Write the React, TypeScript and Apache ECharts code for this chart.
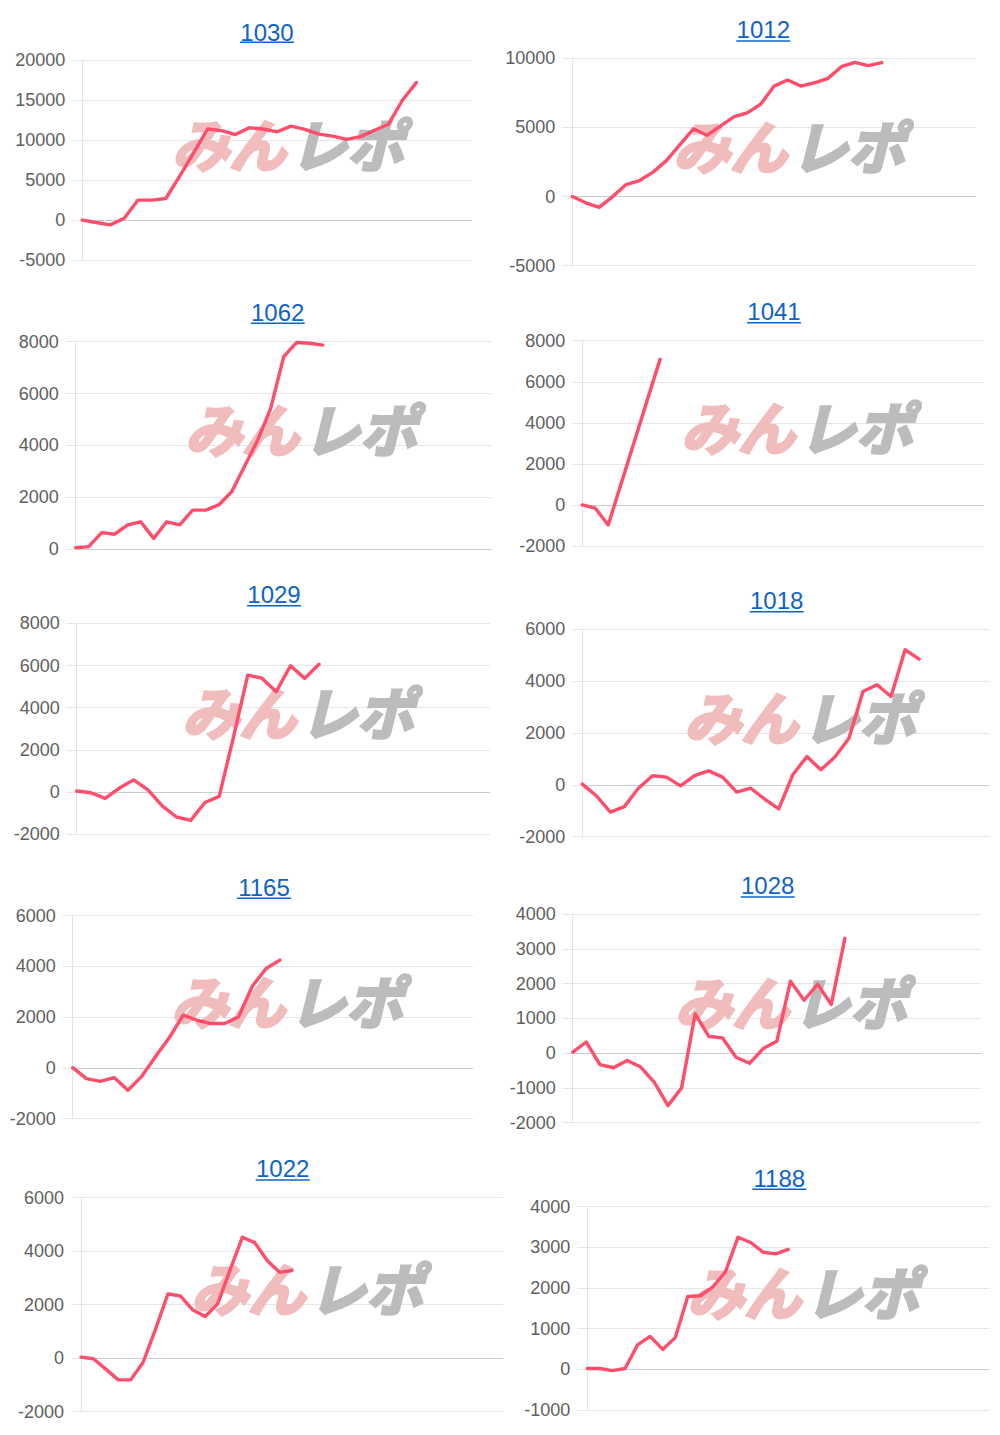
import React, { useEffect, useRef } from "react";
import * as echarts from "echarts";

// ---- data ----
const titles = ["1030", "1012", "1062", "1041", "1029", "1018", "1165", "1028", "1022", "1188"];

const values1030 = [0, -300, -600, 200, 2500, 2500, 2700, 5500, 8400, 11400, 11200, 10700, 11550, 11400, 11050, 11750, 11350, 10750, 10500, 10100, 10450, 11250, 12000, 15000, 17200];
const values1012 = [0, -450, -780, 0, 870, 1160, 1770, 2600, 3750, 4900, 4430, 5100, 5760, 6050, 6680, 7990, 8430, 7990, 8230, 8550, 9390, 9710, 9470, 9690];
const values1062 = [50, 90, 630, 570, 930, 1050, 410, 1050, 930, 1500, 1500, 1700, 2210, 3200, 4200, 5430, 7420, 7970, 7940, 7870];
const values1041 = [0, -160, -975, null, null, null, 7090];
const values1029 = [50, -30, -300, 190, 580, 110, -650, -1180, -1340, -490, -200, 2600, 5540, 5400, 4760, 5990, 5390, 6060];
const values1018 = [30, -420, -1050, -840, -130, 350, 300, -40, 360, 540, 300, -280, -130, -550, -930, 390, 1090, 580, 1070, 1800, 3600, 3860, 3410, 5210, 4850];
const values1165 = [10, -420, -530, -380, -880, -330, 450, 1200, 2080, 1880, 1750, 1750, 2010, 3220, 3920, 4250];
const values1028 = [30, 320, -330, -420, -210, -400, -840, -1510, -1000, 1130, 480, 440, -120, -290, 130, 340, 2070, 1520, 1980, 1400, 3300];
const values1022 = [40, -20, -410, -810, -810, -160, 1080, 2400, 2330, 1810, 1560, 2020, 3280, 4520, 4320, 3650, 3210, 3280];
const values1188 = [20, 20, -30, 20, 600, 810, 490, 780, 1790, 1810, 2030, 2400, 3250, 3120, 2880, 2840, 2950];

const seriesValues = [values1030, values1012, values1062, values1041, values1029, values1018, values1165, values1028, values1022, values1188];

// number of (hidden) x categories on each panel's axis
const categoryCounts = [29, 31, 33, 32, 30, 30, 30, 31, 35, 33];

// y-axis tick settings
const yMins = [-5000, -5000, 0, -2000, -2000, -2000, -2000, -2000, -2000, -1000];
const yMaxs = [20000, 10000, 8000, 8000, 8000, 6000, 6000, 4000, 6000, 4000];
const yIntervals = [5000, 5000, 2000, 2000, 2000, 2000, 2000, 1000, 2000, 1000];

// ---- layout (pixels) ----
const plotLeft = [82.3, 572.3, 75.7, 582.3, 76.7, 582.3, 72.7, 572.7, 81, 587.3];
const plotRight = [472, 976, 491.7, 984, 490, 989.3, 473.3, 981, 503, 989.3];
const plotTop = [60.3, 58.3, 341.7, 340.7, 623.3, 629.3, 915.7, 914, 1197.7, 1206.7];
const plotBottom = [260, 265.7, 549, 546, 834.3, 836.7, 1118.7, 1122.7, 1411.7, 1410];
const titleX = [267, 763.3, 277.7, 774, 274, 776.7, 264, 767.7, 282.7, 779.3];
const titleY = [32, 29.2, 312, 311.7, 594.5, 600, 887, 885, 1168, 1178];
const underlineY = [42.3, 41, 323.3, 322.7, 605.7, 611.7, 898.3, 897, 1180, 1189.3];
const logoX = [291, 792, 304, 800, 301, 803, 290, 794, 310, 806];
const logoY = [146, 148, 431, 429, 714, 719, 1003, 1004, 1290, 1294];

const W = 1000;
const H = 1435;
const FONT = '"Liberation Sans", Arial, Helvetica, sans-serif';
const LINE_COLOR = "#ff4d6b";
const LOGO_FONT = '"Noto Sans CJK JP", sans-serif';

function buildOption() {
  const grids: any[] = [];
  const xAxes: any[] = [];
  const yAxes: any[] = [];
  const series: any[] = [];
  const graphics: any[] = [];

  titles.forEach((t, i) => {
    grids.push({
      left: plotLeft[i],
      top: plotTop[i],
      width: plotRight[i] - plotLeft[i],
      height: plotBottom[i] - plotTop[i],
      containLabel: false,
    });
    const cats = Array.from({ length: categoryCounts[i] }, (_, k) => String(k + 1));
    xAxes.push({
      gridIndex: i,
      type: "category",
      data: cats,
      boundaryGap: false,
      axisLine: { show: false },
      axisTick: { show: false },
      axisLabel: { show: false },
      splitLine: { show: false },
    });
    const splitColors: string[] = [];
    for (let v = yMins[i]; v <= yMaxs[i]; v += yIntervals[i]) {
      splitColors.push(v === 0 ? "#cbcbcb" : "#e6e6e6");
    }
    yAxes.push({
      gridIndex: i,
      type: "value",
      min: yMins[i],
      max: yMaxs[i],
      interval: yIntervals[i],
      axisLine: { show: true, lineStyle: { color: "#e3e3e3", width: 1 } },
      axisTick: { show: true, length: 10, lineStyle: { color: "#e6e6e6", width: 1 } },
      axisLabel: {
        fontSize: 18,
        color: "#606060",
        margin: 17,
        fontFamily: FONT,
        formatter: (v: number) => String(v),
      },
      splitLine: { show: true, lineStyle: { color: splitColors, width: 1 } },
    });
    series.push({
      type: "line",
      xAxisIndex: i,
      yAxisIndex: i,
      data: seriesValues[i],
      symbol: "none",
      connectNulls: true,
      smooth: false,
      z: 5,
      lineStyle: { color: LINE_COLOR, width: 3.4, cap: "round", join: "round" },
    });

    // title (blue underlined link)
    graphics.push({
      type: "text",
      x: titleX[i],
      y: titleY[i],
      z: 10,
      style: {
        text: t,
        fill: "#0e63c9",
        fontSize: 24,
        fontFamily: FONT,
        align: "center",
        verticalAlign: "middle",
      },
    });
    graphics.push({
      type: "line",
      z: 10,
      shape: { x1: titleX[i] - 27, y1: underlineY[i], x2: titleX[i] + 27, y2: underlineY[i] },
      style: { stroke: "#0e63c9", lineWidth: 1.6 },
    });

    // watermark logo
    graphics.push({
      type: "text",
      x: logoX[i] - 62,
      y: logoY[i] - 4,
      z: 1,
      style: {
        text: "みん",
        fill: "#f0bcbc",
        stroke: "#f0bcbc",
        lineWidth: 3,
        fontSize: 57,
        fontWeight: "bold",
        fontStyle: "italic",
        fontFamily: LOGO_FONT,
        align: "center",
        verticalAlign: "middle",
      },
    });
    graphics.push({
      type: "text",
      x: logoX[i] + 56,
      y: logoY[i] - 4,
      z: 1,
      style: {
        text: "レポ",
        fill: "#bcbcbc",
        stroke: "#bcbcbc",
        lineWidth: 3,
        fontSize: 57,
        fontWeight: "bold",
        fontStyle: "italic",
        fontFamily: LOGO_FONT,
        align: "center",
        verticalAlign: "middle",
      },
    });
  });

  return {
    animation: false,
    backgroundColor: "#ffffff",
    grid: grids,
    xAxis: xAxes,
    yAxis: yAxes,
    series,
    graphic: graphics,
  };
}

export default function App() {
  const ref = useRef<HTMLDivElement>(null);
  useEffect(() => {
    if (!ref.current) return;
    const chart = echarts.init(ref.current, undefined, { renderer: "svg", width: W, height: H });
    chart.setOption(buildOption() as any);
    return () => chart.dispose();
  }, []);
  return (
    <div
      ref={ref}
      style={{ position: "absolute", left: 0, top: 0, width: W, height: H, background: "#fff" }}
    />
  );
}
